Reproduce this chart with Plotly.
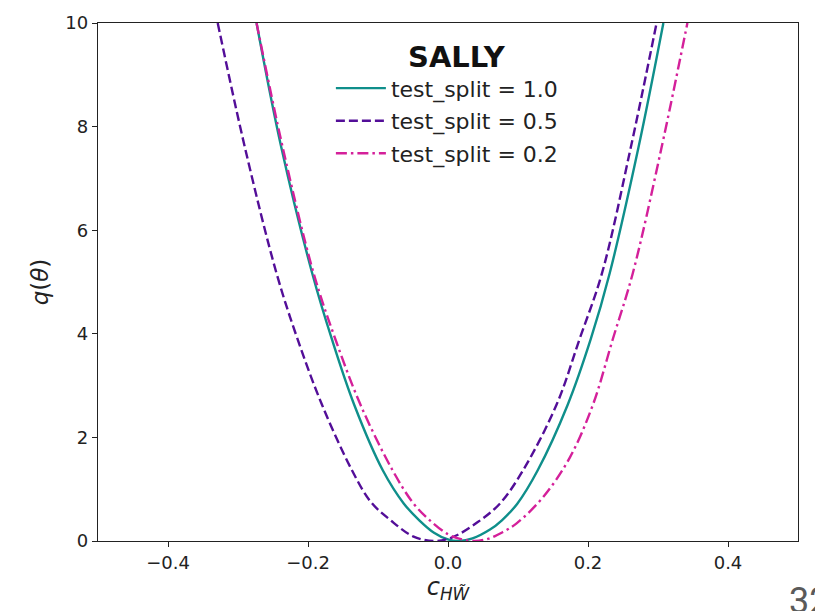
import plotly.graph_objects as go

# ---- data ----
series_names = ["test_split = 1.0", "test_split = 0.5", "test_split = 0.2"]

x_split_10 = [-0.2735, -0.238, -0.194, -0.166, -0.134, -0.093, -0.063, -0.041, -0.020, 0.000,
              0.016, 0.035, 0.060, 0.077, 0.099, 0.128, 0.171, 0.204, 0.231, 0.272, 0.3077]
q_split_10 = [10.0, 7.59, 5.17, 3.90, 2.63, 1.36, 0.72, 0.40, 0.16, 0.03,
              0.0, 0.05, 0.22, 0.40, 0.72, 1.36, 2.63, 3.90, 5.17, 7.59, 10.0]

x_split_05 = [-0.329, -0.290, -0.245, -0.215, -0.180, -0.137, -0.110, -0.082, -0.050, -0.021,
              0.006, 0.042, 0.074, 0.107, 0.155, 0.188, 0.220, 0.261, 0.298]
q_split_05 = [10.0, 7.59, 5.17, 3.90, 2.63, 1.36, 0.75, 0.40, 0.09, 0.0,
              0.07, 0.36, 0.72, 1.36, 2.63, 3.90, 5.17, 7.59, 10.0]

x_split_02 = [-0.2735, -0.236, -0.192, -0.161, -0.125, -0.079, -0.049, -0.026, 0.000, 0.020,
              0.038, 0.058, 0.078, 0.098, 0.136, 0.174, 0.207, 0.2355, 0.264, 0.305, 0.342]
q_split_02 = [10.0, 7.59, 5.17, 3.90, 2.63, 1.36, 0.72, 0.40, 0.13, 0.03,
              0.0, 0.045, 0.17, 0.34, 0.85, 1.61, 2.63, 3.90, 5.17, 7.59, 10.0]

x_tick_vals = [-0.4, -0.2, 0.0, 0.2, 0.4]
x_tick_text = ["\u22120.4", "\u22120.2", "0.0", "0.2", "0.4"]
y_tick_vals = [0, 2, 4, 6, 8, 10]
y_tick_text = ["0", "2", "4", "6", "8", "10"]

colors = ["#0f8f8b", "#530e98", "#d4209a"]
dashes = ["solid", "9px,4px", "11px,4px,2.5px,4px"]

FONT = "DejaVu Sans"

fig = go.Figure()
for i, (xs, qs) in enumerate([(x_split_10, q_split_10), (x_split_05, q_split_05), (x_split_02, q_split_02)]):
    fig.add_trace(go.Scatter(
        x=xs, y=qs, mode="lines", name=series_names[i], legendgroup=f"g{i}",
        line=dict(color=colors[i], width=2.4, dash=dashes[i], shape="spline", smoothing=1.0),
    ))

axis_common = dict(
    showline=True, linecolor="#222222", linewidth=1.3, mirror=True,
    showgrid=False, zeroline=False, ticks="outside", ticklen=5, tickwidth=1.2,
    tickcolor="#222222", tickfont=dict(family=FONT, size=18, color="#222222"),
)

fig.update_layout(
    width=815, height=611,
    margin=dict(l=98, r=17, t=17, b=70),
    paper_bgcolor="white", plot_bgcolor="white",
    font=dict(family=FONT, color="#222222"),
    xaxis=dict(range=[-0.5, 0.5], tickvals=x_tick_vals, ticktext=x_tick_text,
               title=dict(text="<i>c</i><sub><i>HW\u0303</i></sub>", font=dict(family=FONT, size=24),
                          standoff=5),
               **axis_common),
    yaxis=dict(range=[0, 10], tickvals=y_tick_vals, ticktext=y_tick_text,
               title=dict(text="<i>q</i>(<i>\u03b8</i>)", font=dict(family=FONT, size=23),
                          standoff=10),
               **axis_common),
    legend=dict(x=0.3327, y=0.9145, xanchor="left", yanchor="top",
                bgcolor="rgba(255,255,255,0)", borderwidth=0,
                font=dict(family=FONT, size=22, color="#222222"),
                itemwidth=50, tracegroupgap=1),
    showlegend=True,
)

fig.add_annotation(text="<b>SALLY</b>", x=(457 - 98) / 700, y=(541 - 51) / 524, xref="paper", yref="paper",
                   showarrow=False, xanchor="center", yanchor="middle",
                   font=dict(family=FONT, size=29, color="#111111"))

fig.add_annotation(text="32", x=(787 - 98) / 700, y=(541 - 578) / 524, xref="paper", yref="paper",
                   showarrow=False, xanchor="left", yanchor="top",
                   font=dict(family="Roboto", size=36, color="#5a5a5a"))

fig.write_html("out.html")
